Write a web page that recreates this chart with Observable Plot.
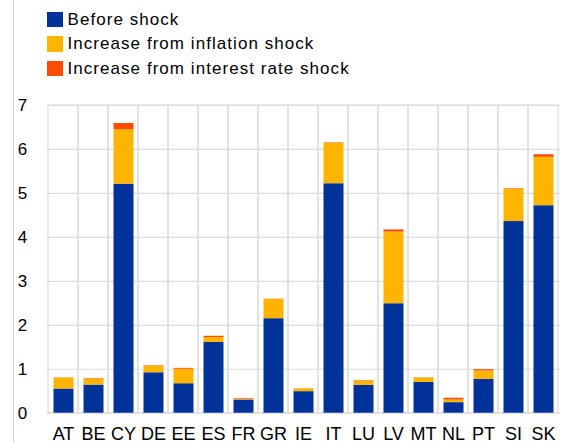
<!DOCTYPE html>
<html><head><meta charset="utf-8">
<script src="https://cdn.jsdelivr.net/npm/d3@7"></script>
<script src="https://cdn.jsdelivr.net/npm/@observablehq/plot@0.6"></script>
<style>
body{margin:0;background:#fff;font-family:"Liberation Sans",Arial,sans-serif;}
#wrap{position:relative;width:564px;height:443px;overflow:hidden;background:#fff;}
#vline{position:absolute;left:13px;top:0;width:1px;height:443px;background:#d4d4d4;}
#legend{position:absolute;left:47px;top:7.3px;}
.row{display:flex;align-items:center;height:24.5px;font-size:17px;letter-spacing:1.05px;color:#000;white-space:nowrap;}
.sw{width:15.5px;height:15.5px;margin-right:5px;flex:none;}
#chart{position:absolute;left:0;top:95px;}
</style></head><body>
<div id="wrap"><div id="vline"></div><div id="legend"></div><div id="chart"></div></div>
<script>
const categories = ["AT","BE","CY","DE","EE","ES","FR","GR","IE","IT","LU","LV","MT","NL","PT","SI","SK"];
const before    = [0.55,0.64,5.21,0.92,0.67,1.61,0.30,2.15,0.49,5.22,0.63,2.49,0.70,0.24,0.77,4.36,4.72];
const inflation = [0.25,0.14,1.24,0.15,0.33,0.11,0.02,0.44,0.06,0.92,0.10,1.63,0.10,0.06,0.19,0.74,1.10];
const interest  = [0.005,0.01,0.14,0.01,0.02,0.03,0.015,0.005,0.005,0.01,0.01,0.05,0.005,0.04,0.03,0.01,0.06];
const seriesNames = ["Before shock","Increase from inflation shock","Increase from interest rate shock"];
const seriesColors = ["#003299","#FFB400","#FF4B00"];
const yTicks = [0,1,2,3,4,5,6,7];

const seriesValues = [before, inflation, interest];
const data = [];
seriesNames.forEach((s, si) => categories.forEach((c, ci) => data.push({country: c, series: s, value: seriesValues[si][ci]})));

const legend = document.getElementById("legend");
seriesNames.forEach((s, i) => {
  const r = document.createElement("div"); r.className = "row";
  const sw = document.createElement("div"); sw.className = "sw"; sw.style.background = seriesColors[i];
  const t = document.createElement("span"); t.textContent = s;
  r.appendChild(sw); r.appendChild(t); legend.appendChild(r);
});

const chart = Plot.plot({
  width: 564,
  height: 348,
  marginTop: 10,
  marginBottom: 30.3,
  marginLeft: 46.7,
  marginRight: 4,
  style: {fontFamily: "'Liberation Sans', Arial, sans-serif", fontSize: "17px", color: "#000", background: "transparent"},
  x: {domain: categories, padding: 0},
  y: {domain: [0, 7]},
  color: {domain: seriesNames, range: seriesColors},
  marks: [
    Plot.cell(categories, {x: d => d, fill: "none", stroke: "#dcdcdc", strokeWidth: 1.2}),
    Plot.ruleY(yTicks, {stroke: "#dcdcdc", strokeWidth: 1.2}),
    Plot.barY(data, {x: "country", y: "value", fill: "series", insetLeft: 5.5, insetRight: 4.5}),
    Plot.axisX({label: null, tickSize: 0, tickPadding: 14, fontSize: 18}),
    Plot.axisY({ticks: yTicks, tickFormat: d => d, label: null, tickSize: 0, tickPadding: 20, fontSize: 17})
  ]
});
document.getElementById("chart").appendChild(chart);
</script>
</body></html>
